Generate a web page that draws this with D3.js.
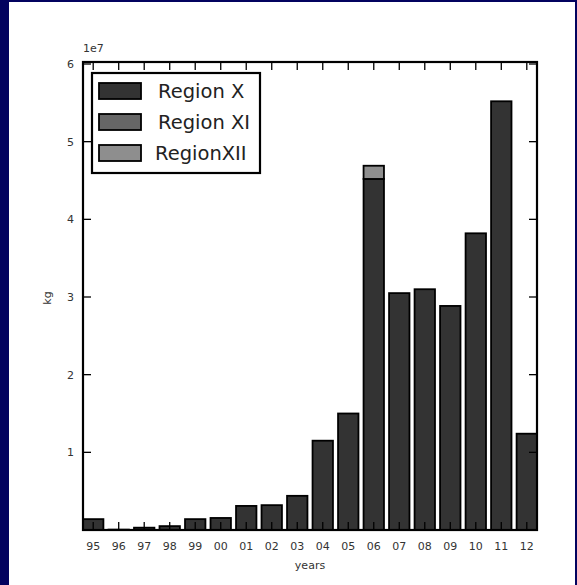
<!DOCTYPE html>
<html>
<head>
<meta charset="utf-8">
<script src="https://cdn.jsdelivr.net/npm/d3@7"></script>
<style>
  html, body { margin: 0; padding: 0; background: #fff; }
  svg { display: block; }
  text { font-family: "DejaVu Sans", sans-serif; }
</style>
</head>
<body>
<script>
// Yearly catch by region (kg)
const years = ["95","96","97","98","99","00","01","02","03","04","05","06","07","08","09","10","11","12"];
const regionX   = [1.4e6, 0.05e6, 0.3e6, 0.5e6, 1.4e6, 1.55e6, 3.1e6, 3.2e6, 4.4e6, 1.15e7, 1.5e7, 4.52e7, 3.05e7, 3.10e7, 2.885e7, 3.82e7, 5.52e7, 1.24e7];
const regionXI  = [0, 0, 0, 0, 0, 0, 0, 0, 0, 0, 0, 0, 0, 0, 0, 0, 0, 0];
const regionXII = [0, 0, 0, 0, 0, 0, 0, 0, 0, 0, 0, 1.7e6, 0, 0, 0, 0, 0, 0];
const seriesNames = ["Region X", "Region XI", "RegionXII"];
const seriesColors = ["#333333", "#666666", "#8e8e8e"];
const yTicks = [1e7, 2e7, 3e7, 4e7, 5e7, 6e7];

const W = 577, H = 585;
const svg = d3.select("body").append("svg").attr("width", W).attr("height", H);

// frame
svg.append("rect").attr("x", 0).attr("y", 0).attr("width", W).attr("height", H).attr("fill", "#03035f");
svg.append("rect").attr("x", 9).attr("y", 2).attr("width", W - 11).attr("height", H - 2).attr("fill", "#fff");

const L = 83, R = 537, T = 62, B = 530;
const barW = 0.8;
const x = d3.scaleLinear().domain([0, years.length - 1 + barW]).range([L, R]);
const y = d3.scaleLinear().domain([0, 6e7]).range([B, 64]);

// stacked bars
const rows = years.map((yr, i) => ({ yr, i, X: regionX[i], XI: regionXI[i], XII: regionXII[i] }));
const stack = d3.stack().keys(["X", "XI", "XII"])(rows);
const g = svg.append("g");
stack.forEach((layer, k) => {
  g.selectAll(null).data(layer.filter(d => d[1] - d[0] > 0)).enter().append("rect")
    .attr("x", d => x(d.data.i))
    .attr("width", d => x(d.data.i + barW) - x(d.data.i))
    .attr("y", d => y(d[1]))
    .attr("height", d => y(d[0]) - y(d[1]))
    .attr("fill", seriesColors[k])
    .attr("stroke", "#000")
    .attr("stroke-width", 1.8);
});

// ticks (inward on all four sides)
const tl = 8;
const tg = svg.append("g").attr("stroke", "#000").attr("stroke-width", 1.3);
years.forEach((yr, i) => {
  const cx = x(i + barW / 2);
  tg.append("line").attr("x1", cx).attr("x2", cx).attr("y1", B).attr("y2", B - tl);
  tg.append("line").attr("x1", cx).attr("x2", cx).attr("y1", T).attr("y2", T + tl);
});
yTicks.forEach(v => {
  tg.append("line").attr("x1", L).attr("x2", L + tl).attr("y1", y(v)).attr("y2", y(v));
  tg.append("line").attr("x1", R).attr("x2", R - tl).attr("y1", y(v)).attr("y2", y(v));
});

// spines
svg.append("rect").attr("x", L).attr("y", T).attr("width", R - L).attr("height", B - T)
  .attr("fill", "none").attr("stroke", "#000").attr("stroke-width", 2.2);

// tick labels
const lab = svg.append("g").attr("fill", "#333").attr("font-size", "11px");
years.forEach((yr, i) => {
  lab.append("text").attr("x", x(i + barW / 2)).attr("y", 550).attr("text-anchor", "middle").text(yr);
});
yTicks.forEach(v => {
  lab.append("text").attr("x", 74).attr("y", y(v) + 4).attr("text-anchor", "end").text(d3.format("d")(v / 1e7));
});
lab.append("text").attr("x", 83).attr("y", 52).text("1e7");
lab.append("text").attr("x", (L + R) / 2).attr("y", 569).attr("text-anchor", "middle").text("years");
lab.append("text").attr("transform", "translate(51,298) rotate(-90)").attr("text-anchor", "middle").text("kg");

// legend
const lg = svg.append("g");
lg.append("rect").attr("x", 92).attr("y", 73).attr("width", 168).attr("height", 100)
  .attr("fill", "#fff").attr("stroke", "#000").attr("stroke-width", 2.2);
seriesNames.forEach((name, k) => {
  const yy = 83 + k * 31;
  lg.append("rect").attr("x", 99).attr("y", yy).attr("width", 42).attr("height", 16)
    .attr("fill", seriesColors[k]).attr("stroke", "#000").attr("stroke-width", 1.8);
  lg.append("text").attr("x", k === 2 ? 155 : 158).attr("y", yy + 15).attr("font-size", "19.5px")
    .attr("fill", "#222").text(name);
});
</script>
</body>
</html>
